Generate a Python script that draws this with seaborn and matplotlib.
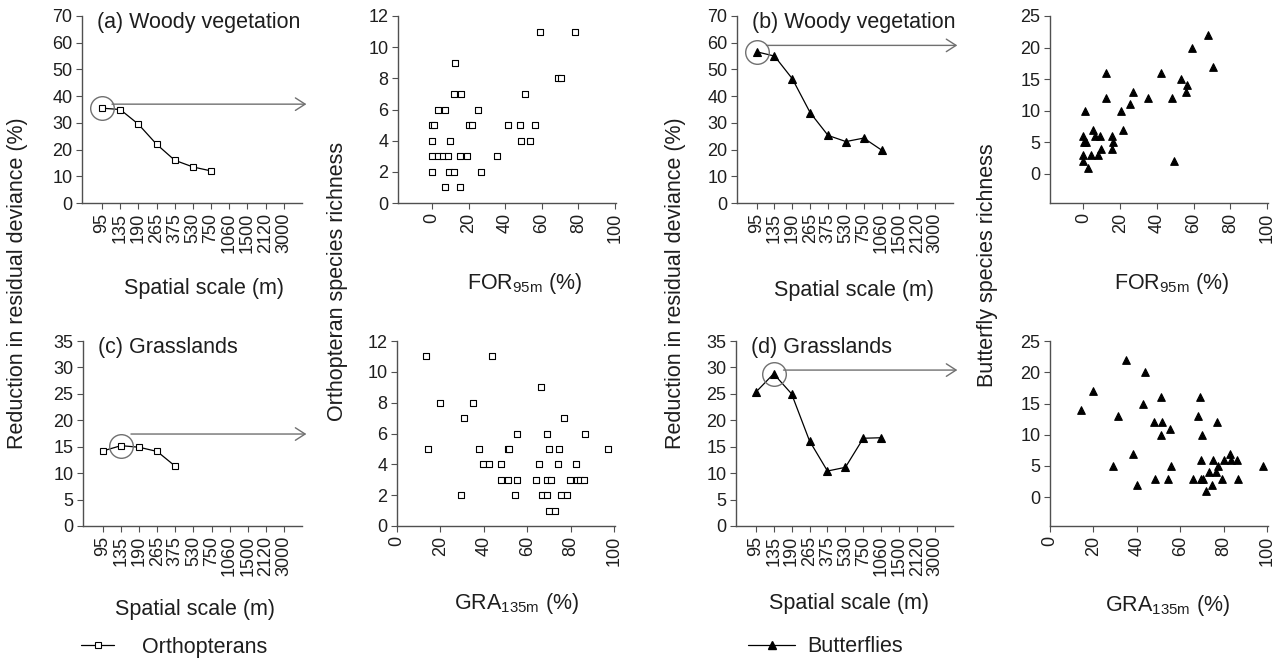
import numpy as np
import pandas as pd
import seaborn as sns
import matplotlib.pyplot as plt
from matplotlib.lines import Line2D

# spatial scales (m) on the category axis
scales = ["95", "135", "190", "265", "375", "530", "750", "1060", "1500", "2120", "3000"]

# reduction in residual deviance (%) for each scale
orth_woody_dev = [35.5, 35.0, 29.5, 22.0, 16.0, 13.5, 12.0]
butt_woody_dev = [56.6, 55.0, 46.5, 33.8, 25.3, 23.0, 24.3, 19.8]
orth_grass_dev = [14.2, 15.2, 14.9, 14.1, 11.3]
butt_grass_dev = [25.3, 28.8, 25.0, 16.1, 10.4, 11.1, 16.6, 16.7]

# circled best scale (index) and level of the arrow
best_idx = [0, 0, 1, 1]
arrow_level = [37.0, 59.0, 17.4, 29.5]

# orthopterans vs FOR95m
orth_for_x = [59, 78, 12.8, 68.6, 70.7, 11.9, 16.1, 50.6, 3.1, 7.3, 25, 0, 1.3, 20, 22, 41.7, 47.9, 56.3,
              0, 10, 48.4, 53.4, 0, 3.1, 5.8, 8.8, 15.2, 19.4, 35.3, 0, 9.1, 12.2, 27, 7.3, 15.2]
orth_for_y = [11, 11, 9, 8, 8, 7, 7, 7, 6, 6, 6, 5, 5, 5, 5, 5, 5, 5,
              4, 4, 4, 4, 3, 3, 3, 3, 3, 3, 3, 2, 2, 2, 2, 1, 1]

# butterflies vs FOR95m
butt_for_x = [68, 59.3, 70.6, 12.4, 42, 53.3, 56.6, 55.7, 27, 12.4, 35.2, 48, 25.2, 0.7, 20.4, 21.5, 5,
              6.4, 8.8, 0, 15.5, 0.4, 1.3, 16, 9.7, 15.5, 0, 4.2, 7.7, 0, 49.3, 2.7]
butt_for_y = [22, 20, 17, 16, 16, 15, 14, 13, 13, 12, 12, 12, 11, 10, 10, 7, 7,
              6, 6, 6, 6, 5, 5, 5, 4, 4, 3, 3, 3, 2, 2, 1]

# orthopterans vs GRA135m
orth_gra_x = [13.5, 43.8, 66.5, 19.6, 34.9, 31.1, 77, 55.3, 69, 86.7, 14.5, 38, 51, 51.8, 70.1, 74.7, 97.2,
              39.5, 42.6, 48, 65.5, 74.1, 82.4, 48, 51, 55.3, 64, 69, 71.2, 79.8, 83.2, 84.4, 86.2,
              29.6, 54.4, 67, 69, 75.5, 78.6, 70.1, 72.9]
orth_gra_y = [11, 11, 9, 8, 8, 7, 7, 6, 6, 6, 5, 5, 5, 5, 5, 5, 5,
              4, 4, 4, 4, 4, 4, 3, 3, 3, 3, 3, 3, 3, 3, 3, 3,
              2, 2, 2, 2, 2, 2, 1, 1]

# butterflies vs GRA135m
butt_gra_x = [35.2, 44, 19.6, 14.4, 42.9, 51.2, 69.1, 31.3, 68.4, 47.8, 51.7, 77.2, 55.2, 51.4, 70.2, 38.1, 83,
              69.4, 75.2, 80, 83.6, 86.4, 29.2, 55.6, 77.5, 98, 73.3, 76.4, 48.3, 54.3, 65.9, 69.4, 70.5,
              79.2, 86.9, 40.1, 74.5, 71.8]
butt_gra_y = [22, 20, 17, 14, 15, 16, 16, 13, 13, 12, 12, 12, 11, 10, 10, 7, 7,
              6, 6, 6, 6, 6, 5, 5, 5, 5, 4, 4, 3, 3, 3, 3, 3,
              3, 3, 2, 2, 1]

sns.set_style("ticks")
plt.rcParams['font.family'] = ['Liberation Sans', 'DejaVu Sans']
plt.rcParams['mathtext.fontset'] = 'custom'
plt.rcParams['mathtext.rm'] = 'Liberation Sans'

W, H = 1282, 658
TXT = '#1e1e1e'
AXC = '#505050'
fig = plt.figure(figsize=(W / 100, H / 100), dpi=100)


def px_axes(left, top, right, bottom):
    return fig.add_axes([left / W, 1 - bottom / H, (right - left) / W, (bottom - top) / H])


def style(ax):
    sns.despine(ax=ax)
    for s in ["left", "bottom"]:
        ax.spines[s].set_color(AXC)
        ax.spines[s].set_linewidth(1.0)
    ax.tick_params(direction='out', length=4, width=0.8, color=AXC, labelsize=13, labelcolor=TXT, pad=3)


def line_panel(ax, vals, ymax, ystep, idx, level, title, marker, mfc, ms):
    pos = np.arange(len(vals))
    sns.lineplot(x=pos, y=vals, ax=ax, color='black', lw=0.9, marker=marker, ms=ms,
                 mfc=mfc, mec='black', mew=0.8, zorder=3)
    ax.plot([idx], [vals[idx]], marker='o', ms=17, mfc='none', mec='#707070', mew=1.0, ls='none', zorder=4)
    ax.annotate('', xy=(1.02, level), xycoords=('axes fraction', 'data'),
                xytext=(idx + 0.55, level), textcoords='data',
                arrowprops=dict(arrowstyle='->,head_length=0.7,head_width=0.45', color='#707070',
                                lw=1.0, shrinkA=0, shrinkB=0), annotation_clip=False)
    ax.set_xlim(-1.1, 11)
    ax.set_ylim(0, ymax)
    ax.set_yticks(np.arange(0, ymax + 1, ystep))
    ax.set_xticks(np.arange(len(scales)))
    ax.set_xticklabels(scales, rotation=90)
    ax.tick_params(axis='x', pad=6)
    ax.text(0.07, 1.02, title, transform=ax.transAxes, ha='left', va='top', fontsize=15.5, color=TXT)
    style(ax)


def scatter_panel(ax, x, y, marker, face, s, xmin, ylim, yticks):
    sns.scatterplot(x=x, y=y, ax=ax, marker=marker, s=s, color=face, edgecolor='black', linewidth=0.8, zorder=3)
    ax.set_xlim(xmin, 100.5)
    ax.set_ylim(*ylim)
    ax.set_xticks(np.arange(0, 101, 20))
    ax.set_yticks(yticks)
    ax.tick_params(axis='x', labelrotation=90, pad=5)
    style(ax)


def xlab(ax, text, xf, off):
    ax.annotate(text, xy=(xf, 0), xycoords='axes fraction', xytext=(0, -off), textcoords='offset pixels',
                ha='center', va='center', fontsize=15.5, color=TXT, annotation_clip=False)


# line panels
ax_a = px_axes(82, 16, 302, 203)
line_panel(ax_a, orth_woody_dev, 70, 10, best_idx[0], arrow_level[0], "(a) Woody vegetation", 's', 'white', 5)
xlab(ax_a, "Spatial scale (m)", 0.555, 85)

ax_b = px_axes(737, 16, 953, 203)
line_panel(ax_b, butt_woody_dev, 70, 10, best_idx[1], arrow_level[1], "(b) Woody vegetation", '^', 'black', 6)
xlab(ax_b, "Spatial scale (m)", 0.54, 87)

ax_c = px_axes(83, 341, 302, 526)
line_panel(ax_c, orth_grass_dev, 35, 5, best_idx[2], arrow_level[2], "(c) Grasslands", 's', 'white', 5)
xlab(ax_c, "Spatial scale (m)", 0.51, 84)

ax_d = px_axes(736, 341, 953, 526)
line_panel(ax_d, butt_grass_dev, 35, 5, best_idx[3], arrow_level[3], "(d) Grasslands", '^', 'black', 6)
xlab(ax_d, "Spatial scale (m)", 0.52, 78)

# scatter panels
ax_e = px_axes(398, 16, 616, 203)
scatter_panel(ax_e, orth_for_x, orth_for_y, 's', 'white', 19, -18.5, (0, 12), np.arange(0, 13, 2))
xlab(ax_e, r"FOR$_\mathregular{95m}$ (%)", 0.58, 80)

ax_f = px_axes(1050, 16, 1268, 203)
scatter_panel(ax_f, butt_for_x, butt_for_y, '^', 'black', 30, -18.2, (-4.6, 25), np.arange(0, 26, 5))
xlab(ax_f, r"FOR$_\mathregular{95m}$ (%)", 0.56, 80)

ax_g = px_axes(397, 341, 615, 526)
scatter_panel(ax_g, orth_gra_x, orth_gra_y, 's', 'white', 19, 0, (0, 12), np.arange(0, 13, 2))
xlab(ax_g, r"GRA$_\mathregular{135m}$ (%)", 0.55, 77)

ax_h = px_axes(1050, 341, 1268, 526)
scatter_panel(ax_h, butt_gra_x, butt_gra_y, '^', 'black', 30, 0, (-4.6, 25), np.arange(0, 26, 5))
xlab(ax_h, r"GRA$_\mathregular{135m}$ (%)", 0.54, 79)

# shared y labels
for xp, yp, lab in [(18, 283, "Reduction in residual deviance (%)"),
                    (337, 281, "Orthopteran species richness"),
                    (675, 283, "Reduction in residual deviance (%)"),
                    (987, 265, "Butterfly species richness")]:
    fig.text(xp / W, 1 - yp / H, lab, rotation=90, ha='center', va='center', fontsize=15.5, color=TXT)

# legends
h_orth = Line2D([], [], color='black', lw=0.9, marker='s', ms=5, mfc='white', mec='black', mew=0.8)
h_butt = Line2D([], [], color='black', lw=0.9, marker='^', ms=6, mfc='black', mec='black')
fig.legend([h_orth], ["Orthopterans"], loc='center left', bbox_to_anchor=(62 / W, 1 - 647 / H),
           frameon=False, fontsize=15.5, handlelength=1.5, handletextpad=1.3, labelcolor=TXT)
fig.legend([h_butt], ["Butterflies"], loc='center left', bbox_to_anchor=(729 / W, 1 - 647 / H),
           frameon=False, fontsize=15.5, handlelength=2.15, handletextpad=0.6, labelcolor=TXT)

fig.savefig("out.png", dpi=100, facecolor='white')
